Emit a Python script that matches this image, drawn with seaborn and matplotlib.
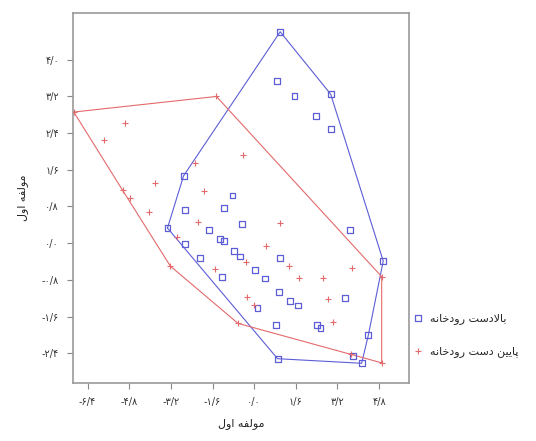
import numpy as np
import pandas as pd
import matplotlib
matplotlib.use("Agg")
import matplotlib.pyplot as plt
import seaborn as sns

# ---------------- data ----------------
up_x = [1.00, 0.87, 1.55, 2.94, 2.38, 2.94, -2.71, -0.83, -2.65, -1.15, -3.33, -0.47,
        -1.75, -1.30, -1.15, -2.65, -2.07, -0.79, -0.56, 1.00, 0.04, 0.40, -1.22, 0.97,
        1.38, 1.70, 0.13, 0.84, 2.40, 2.55, 3.49, 3.68, 4.96, 4.39, 4.13, 3.79, 0.90]
up_y = [4.61, 3.54, 3.20, 3.25, 2.78, 2.49, 1.47, 1.04, 0.73, 0.76, 0.33, 0.41,
        0.29, 0.09, 0.05, -0.01, -0.33, -0.17, -0.29, -0.33, -0.58, -0.77, -0.73, -1.07,
        -1.27, -1.36, -1.41, -1.78, -1.78, -1.86, -1.19, 0.29, -0.39, -2.00, -2.62, -2.47, -2.52]

down_x = [-6.93, -1.45, -4.97, -5.78, -0.42, -2.28, -3.80, -5.05, -1.92, -4.76, -4.05,
          -2.14, -2.97, 1.00, 0.46, -0.32, -1.50, 1.35, 1.74, 2.64, 3.75, 2.85, -0.26,
          0.00, 3.04, -3.22, -0.62, 4.90, 4.90, 3.72]
down_y = [2.86, 3.20, 2.63, 2.25, 1.93, 1.74, 1.32, 1.15, 1.14, 0.98, 0.69,
          0.47, 0.13, 0.44, -0.07, -0.42, -0.57, -0.50, -0.75, -0.75, -0.55, -1.22, -1.18,
          -1.35, -1.72, -0.50, -1.75, -0.73, -2.61, -2.42]

group_up = "بالادست رودخانه"
group_down = "پایین دست رودخانه"
x_label = "مولفه اول"
y_label = "مولفه اول"
x_ticks = [-6.4, -4.8, -3.2, -1.6, 0.0, 1.6, 3.2, 4.8]
y_ticks = [-2.4, -1.6, -0.8, 0.0, 0.8, 1.6, 2.4, 3.2, 4.0]

# ---------------- minimal Persian shaping (matplotlib has no bidi) ----------------
FORMS = {  # iso, final, initial, medial
    'ا': ('\uFE8D', '\uFE8E', None, None),
    'ب': ('\uFE8F', '\uFE90', '\uFE91', '\uFE92'),
    'پ': ('\uFB56', '\uFB57', '\uFB58', '\uFB59'),
    'ت': ('\uFE95', '\uFE96', '\uFE97', '\uFE98'),
    'خ': ('\uFEA5', '\uFEA6', '\uFEA7', '\uFEA8'),
    'د': ('\uFEA9', '\uFEAA', None, None),
    'ر': ('\uFEAD', '\uFEAE', None, None),
    'س': ('\uFEB1', '\uFEB2', '\uFEB3', '\uFEB4'),
    'ف': ('\uFED1', '\uFED2', '\uFED3', '\uFED4'),
    'ل': ('\uFEDD', '\uFEDE', '\uFEDF', '\uFEE0'),
    'م': ('\uFEE1', '\uFEE2', '\uFEE3', '\uFEE4'),
    'ن': ('\uFEE5', '\uFEE6', '\uFEE7', '\uFEE8'),
    'ه': ('\uFEE9', '\uFEEA', '\uFEEB', '\uFEEC'),
    'و': ('\uFEED', '\uFEEE', None, None),
    'ی': ('\uFBFC', '\uFBFD', '\uFBFE', '\uFBFF'),
    'LA': ('\uFEFB', '\uFEFC', None, None),
}


def dual(c):
    return c in FORMS and FORMS[c][2] is not None


def shape(text):
    out_words = []
    for word in text.split(' '):
        toks = []
        i = 0
        while i < len(word):
            if word[i] == 'ل' and i + 1 < len(word) and word[i + 1] == 'ا':
                toks.append('LA')
                i += 2
            else:
                toks.append(word[i])
                i += 1
        res = []
        for k, t in enumerate(toks):
            if t not in FORMS:
                res.append(t)
                continue
            prev_c = k > 0 and dual(toks[k - 1])
            next_c = dual(t) and k + 1 < len(toks) and toks[k + 1] in FORMS
            iso, fin, ini, med = FORMS[t]
            if prev_c and next_c:
                res.append(med)
            elif prev_c:
                res.append(fin)
            elif next_c:
                res.append(ini)
            else:
                res.append(iso)
        out_words.append(''.join(res))
    return ' '.join(out_words)[::-1]


FA_DIGITS = str.maketrans('0123456789', '۰۱۲۳۴۵۶۷۸۹')


def fa_num(v):
    s = f"{abs(v):.1f}".replace('.', '/').translate(FA_DIGITS)
    return ('-' + s) if v < -1e-9 else s


def hull(xs, ys):
    pts = sorted(set(zip(xs, ys)))

    def cross(o, a, b):
        return (a[0] - o[0]) * (b[1] - o[1]) - (a[1] - o[1]) * (b[0] - o[0])
    lower, upper = [], []
    for p in pts:
        while len(lower) >= 2 and cross(lower[-2], lower[-1], p) <= 0:
            lower.pop()
        lower.append(p)
    for p in reversed(pts):
        while len(upper) >= 2 and cross(upper[-2], upper[-1], p) <= 0:
            upper.pop()
        upper.append(p)
    h = lower[:-1] + upper[:-1]
    h.append(h[0])
    return [p[0] for p in h], [p[1] for p in h]


# ---------------- plot ----------------
sns.set_style("white")
plt.rcParams['font.family'] = ['DejaVu Sans']

BLUE = '#5d5dd6'
RED = '#e46a6c'

df_up = pd.DataFrame({'x': up_x, 'y': up_y})
df_down = pd.DataFrame({'x': down_x, 'y': down_y})

fig = plt.figure(figsize=(5.36, 4.41), dpi=100)
ax = fig.add_axes([73 / 536, 1 - 383 / 441, (409 - 73) / 536, (383 - 13) / 441])

hx, hy = hull(up_x, up_y)
ax.plot(hx, hy, color=BLUE, lw=0.8, zorder=2)
hx, hy = hull(down_x, down_y)
ax.plot(hx, hy, color=RED, lw=0.8, zorder=2)

sns.scatterplot(data=df_up, x='x', y='y', ax=ax, marker='s', s=18,
                facecolor='none', edgecolor=BLUE, linewidth=0.9,
                label=shape(group_up), zorder=3)
sns.scatterplot(data=df_down, x='x', y='y', ax=ax, marker='+', s=18,
                color=RED, linewidth=0.8, label=shape(group_down), zorder=3)

ax.set_xlim(-6.96, 5.95)
ax.set_ylim(-3.05, 5.02)
ax.set_xticks(x_ticks)
ax.set_xticklabels([fa_num(v) for v in x_ticks], fontsize=7, color='#333333')
ax.set_yticks(y_ticks)
ax.set_yticklabels([fa_num(v) for v in y_ticks], fontsize=7, color='#333333')
ax.tick_params(axis='both', direction='out', length=4, width=0.8, color='#888888',
               bottom=True, left=True, pad=6)
for sp in ax.spines.values():
    sp.set_color('#999999')
    sp.set_linewidth(1.2)

ax.set_xlabel(shape(x_label), fontsize=8, labelpad=8)
ax.set_ylabel(shape(y_label), fontsize=8, labelpad=10)

leg = ax.legend(loc='center left', bbox_to_anchor=(414 / 536, 1 - 335 / 441),
                bbox_transform=fig.transFigure, frameon=False, fontsize=8,
                handlelength=0.8, handletextpad=0.6, labelspacing=2.0,
                borderpad=0, borderaxespad=0)

fig.savefig('out.png', dpi=100)
